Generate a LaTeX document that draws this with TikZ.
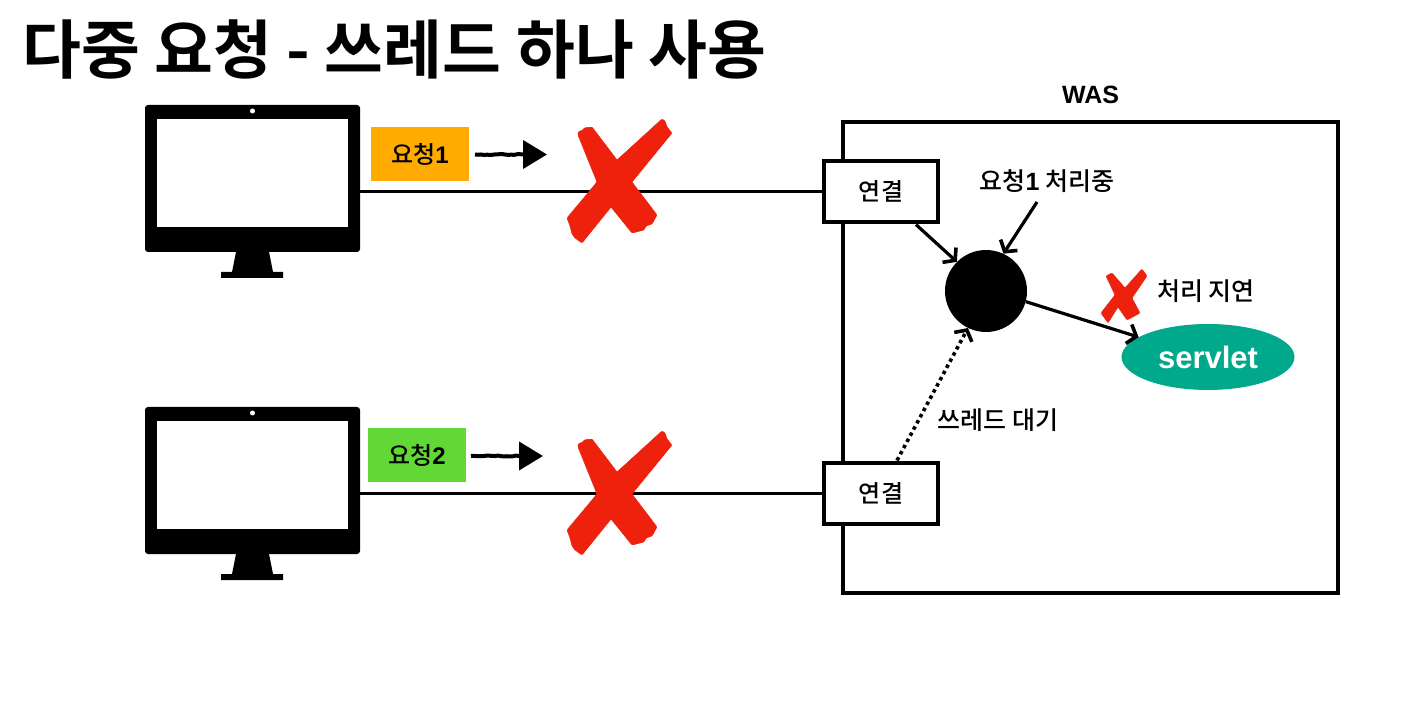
\documentclass[tikz,border=0pt]{standalone}
\usepackage{fontspec}
\setmainfont{Noto Sans CJK KR Medium}[BoldFont={Noto Sans CJK KR Bold}]
\newfontfamily\lat{Liberation Sans}
\usetikzlibrary{arrows.meta,calc,shapes.geometric,decorations.pathmorphing}
\definecolor{xred}{HTML}{EE220C}
\definecolor{reqA}{HTML}{FFAB00}
\definecolor{reqB}{HTML}{61D836}
\definecolor{srv}{HTML}{00A98C}
\tikzset{
 monbody/.style={fill=black,draw=none,rounded corners=3pt,minimum width=215pt,minimum height=147pt,inner sep=0pt},
 monscreen/.style={fill=white,draw=none,minimum width=191pt,minimum height=108pt,inner sep=0pt},
 reqbox/.style={draw=none,minimum width=98pt,minimum height=54pt,inner sep=0pt,font=\fontsize{24}{24}\selectfont},
 connbox/.style={draw=black,line width=3.2pt,fill=white,minimum width=114pt,minimum height=61pt,inner sep=0pt,font=\fontsize{24}{24}\selectfont},
 lbl/.style={inner sep=0pt,font=\fontsize{25}{25}\selectfont},
 link/.style={line width=3pt,black},
 arr/.style={line width=3.2pt,black,-{Straight Barb[length=8pt,width=20pt,line width=3.6pt]}},
 hand/.style={line width=4pt,black,-{Triangle[length=24pt,width=28pt]},decorate,decoration={random steps,segment length=3pt,amplitude=.5pt,post length=24pt}},
 crossmark/.style={fill=xred,draw=xred,line width=.5pt,line join=round,rounded corners=1pt},
}
\newcommand{\boldone}{{\lat\bfseries 1}}
\begin{document}
\begin{tikzpicture}[x=1pt,y=-1pt]
\useasboundingbox (0,0) rectangle (1422,708);
\fill[white] (0,0) rectangle (1422,708);
\node[inner sep=0pt,anchor=west,font=\fontsize{64}{64}\selectfont\bfseries] (title) at (22,50) {다중 요청 - 쓰레드 하나 사용};
% WAS
\node[draw=black,line width=3.2pt,minimum width=495pt,minimum height=471pt,inner sep=0pt] (was) at (1090.5,357.5) {};
\node[inner sep=0pt,font=\fontsize{25}{25}\selectfont\lat\bfseries] (waslbl) at (1090.5,95) {WAS};
% connections
\node[connbox] (c1) at (881,191.5) {연결};
\node[connbox] (c2) at (881,493.5) {연결};
% monitors
\foreach \i/\dy in {1/0,2/302}{
 \fill[black] (236,252+\dy) -- (269,252+\dy) -- (273,272+\dy) -- (283,272+\dy) -- (283,278+\dy) -- (221,278+\dy) -- (221,272+\dy) -- (232,272+\dy) -- cycle;
 \node[monbody] (mon\i) at (252.5,178.5+\dy) {};
 \node[monscreen] (scr\i) at (252.5,173+\dy) {};
 \fill[white] (252.5,111+\dy) circle (2.5pt);
 \coordinate (out\i) at (360,191.5+\dy);
}
\draw[link] (out1) -- (c1.west);
\draw[link] (out2) -- (c2.west);
% requests
\node[reqbox,fill=reqA] (r1) at (420,154) {요청\boldone};
\node[reqbox,fill=reqB] (r2) at (417,455) {요청{\lat\bfseries 2}};
\coordinate (h1s) at (475,154.5);\coordinate (h1e) at (547,154.5);
\coordinate (h2s) at (471,456);\coordinate (h2e) at (543,456);
\draw[hand] (h1s) -- (h1e);
\draw[hand] (h2s) -- (h2e);
% big crosses
\foreach \dy in {0,312}{
 \fill[crossmark] (578,135+\dy) -- (578,132+\dy) -- (583,130+\dy) -- (584,128+\dy) -- (592,127+\dy) -- (617,160+\dy) -- (662,119+\dy) -- (665,121+\dy) -- (667,127+\dy) -- (672,133+\dy) -- (632,182+\dy) -- (657,215+\dy) -- (652,224+\dy) -- (646,226+\dy) -- (644,230+\dy) -- (632,233+\dy) -- (611,207+\dy) -- (582,243+\dy) -- (575,238+\dy) -- (572,234+\dy) -- (570,226+\dy) -- (567,218+\dy) -- (597,182+\dy) -- cycle;
}
% thread
\node[circle,fill=black,minimum size=82pt,inner sep=0pt] (th) at (986,291) {};
\node[ellipse,fill=srv,minimum width=173pt,minimum height=66pt,inner sep=0pt,text=white,font=\fontsize{31}{31}\selectfont\lat\bfseries] (sv) at (1208,357) {servlet};
\node[lbl] (l1) at (1047,181) {요청\boldone{} 처리중};
\node[lbl] (l2) at (1206,291) {처리 지연};
\node[lbl] (l3) at (998,420) {쓰레드 대기};
\coordinate (l1a) at (1037,202);
\coordinate (c1a) at ($(c1.south)+(35,1)$);
\coordinate (c2a) at ($(c2.north)+(16,-1)$);
\draw[arr] (c1a) -- (th.135);
\draw[arr] (l1a) -- (th.65);
\draw[arr] (th.-15) -- (sv.164);
\draw[line width=3.6pt,black,dash pattern=on 3.5pt off 3.5pt,-{Straight Barb[length=8pt,width=20pt,line width=3.6pt]}] (c2a) -- (th.244);
% small cross
\fill[crossmark] (1106,276) -- (1112,273) -- (1125,288) -- (1142,269) -- (1147,276) -- (1132,298) -- (1140,313) -- (1127,320) -- (1118,307) -- (1108,323) -- (1101,313) -- (1115,295) -- cycle;
\end{tikzpicture}
\end{document}
